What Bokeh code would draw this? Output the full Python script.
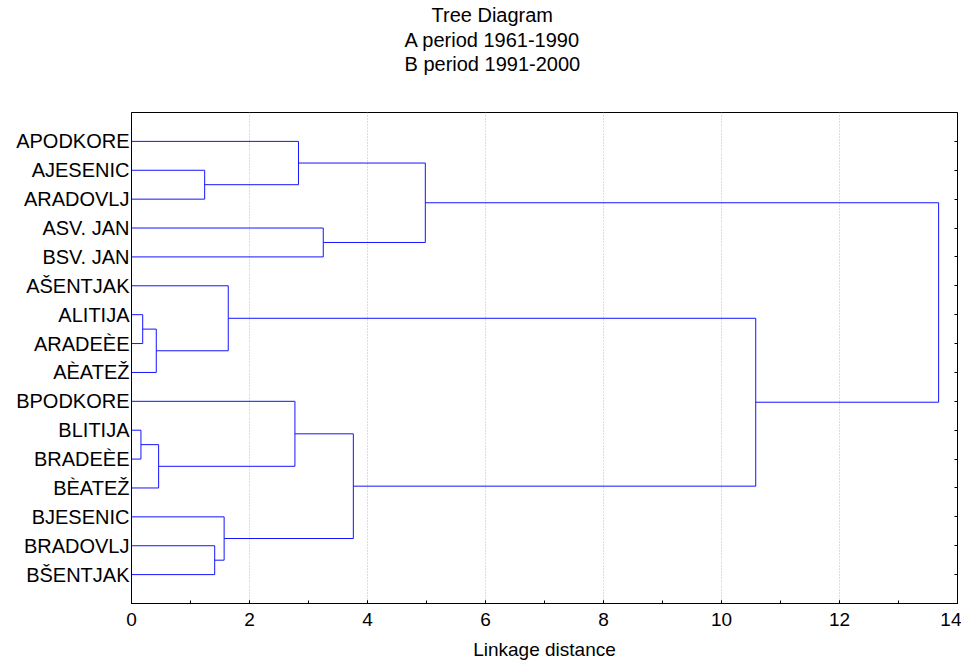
from bokeh.plotting import figure
from bokeh.models import Range1d, FixedTicker, LinearAxis, Title, SingleIntervalTicker
from bokeh.embed import file_html
from bokeh.resources import INLINE

# ---- data ----
leaf_labels = ["APODKORE", "AJESENIC", "ARADOVLJ", "ASV. JAN", "BSV. JAN",
               "AŠENTJAK", "ALITIJA", "ARADEÈE", "AÈATEŽ", "BPODKORE",
               "BLITIJA", "BRADEÈE", "BÈATEŽ", "BJESENIC", "BRADOVLJ", "BŠENTJAK"]
# merges: cluster ids 0..15 are leaves, merge k creates cluster 16+k
merge_left = [1, 0, 3, 17, 6, 20, 5, 10, 23, 9, 14, 13, 25, 22, 19]
merge_right = [2, 16, 4, 18, 7, 8, 21, 11, 12, 24, 15, 26, 27, 28, 29]
merge_height = [1.24, 2.83, 3.25, 4.98, 0.19, 0.42, 1.64, 0.16, 0.46, 2.77,
                1.41, 1.57, 3.76, 10.58, 13.68]
title_lines = ["Tree Diagram", "A period 1961-1990", "B period 1991-2000"]
x_label = "Linkage distance"

FONT = "Liberation Sans"
LINE = "#1414ff"

n = len(leaf_labels)
leaf_pos = list(range(1, n + 1))
node_x = {i: 0.0 for i in range(n)}
node_y = {i: float(leaf_pos[i]) for i in range(n)}
x0, y0, x1, y1 = [], [], [], []
for k, (a, b, h) in enumerate(zip(merge_left, merge_right, merge_height)):
    for c in (a, b):
        x0.append(node_x[c]); y0.append(node_y[c]); x1.append(h); y1.append(node_y[c])
    x0.append(h); y0.append(node_y[a]); x1.append(h); y1.append(node_y[b])
    node_x[n + k] = h
    node_y[n + k] = (node_y[a] + node_y[b]) / 2

p = figure(frame_width=826, frame_height=491, output_backend="svg", toolbar_location=None,
           x_range=Range1d(0, 14), y_range=Range1d(n + 1, 0), title=None,
           min_border_left=131, min_border_right=4, min_border_top=104, min_border_bottom=10)
p.background_fill_color = "white"
p.border_fill_color = "white"
p.outline_line_color = "black"
p.outline_line_width = 1

p.segment(x0=x0, y0=y0, x1=x1, y1=y1, line_color=LINE, line_width=1)

# x axis
xa = p.xaxis[0]
xa.ticker = SingleIntervalTicker(interval=2, num_minor_ticks=2)
xa.axis_label = x_label
xa.axis_label_text_font = FONT
xa.axis_label_text_font_size = "19px"
xa.axis_label_text_font_style = "normal"
xa.axis_label_text_color = "black"
xa.axis_label_standoff = 10
xa.major_label_text_font = FONT
xa.major_label_text_font_size = "19px"
xa.major_label_text_color = "black"
xa.major_label_standoff = 9
xa.major_tick_in = 3
xa.major_tick_out = 0
xa.minor_tick_in = 3
xa.minor_tick_out = 0
xa.axis_line_color = "black"

# y axis (left)
ya = p.yaxis[0]
ya.ticker = FixedTicker(ticks=leaf_pos)
ya.major_label_overrides = {pos: lab for pos, lab in zip(leaf_pos, leaf_labels)}
ya.major_label_text_font = FONT
ya.major_label_text_font_size = "20px"
ya.major_label_text_color = "black"
ya.major_label_standoff = 2
ya.major_tick_in = 0
ya.major_tick_out = 0
ya.minor_tick_in = 0
ya.minor_tick_out = 0
ya.axis_line_color = "black"

# right axis with leaf ticks (no labels)
ra = LinearAxis(ticker=FixedTicker(ticks=leaf_pos),
                major_label_overrides={pos: "" for pos in leaf_pos},
                major_label_standoff=0, major_tick_in=3, major_tick_out=0,
                minor_tick_in=0, minor_tick_out=0, axis_line_color="black")
p.add_layout(ra, "right")

p.ygrid.visible = False
p.xgrid.ticker = SingleIntervalTicker(interval=2)
p.xgrid.grid_line_color = "#bbbbbb"
p.xgrid.grid_line_dash = "1 2"

# titles (first added is nearest the frame); a blank spacer sits between them and the frame
p.add_layout(Title(text=" ", text_font=FONT, text_font_size="20px", standoff=14), "above")
offsets = [273, 273, 300]
standoffs = [0, 0, 2]
for txt, off, so in zip(reversed(title_lines), offsets, standoffs):
    p.add_layout(Title(text=txt, align="left", offset=off, text_font=FONT,
                       text_font_size="20px", text_font_style="normal",
                       text_color="black", standoff=so), "above")

open("out.html", "w").write(file_html(p, INLINE))
